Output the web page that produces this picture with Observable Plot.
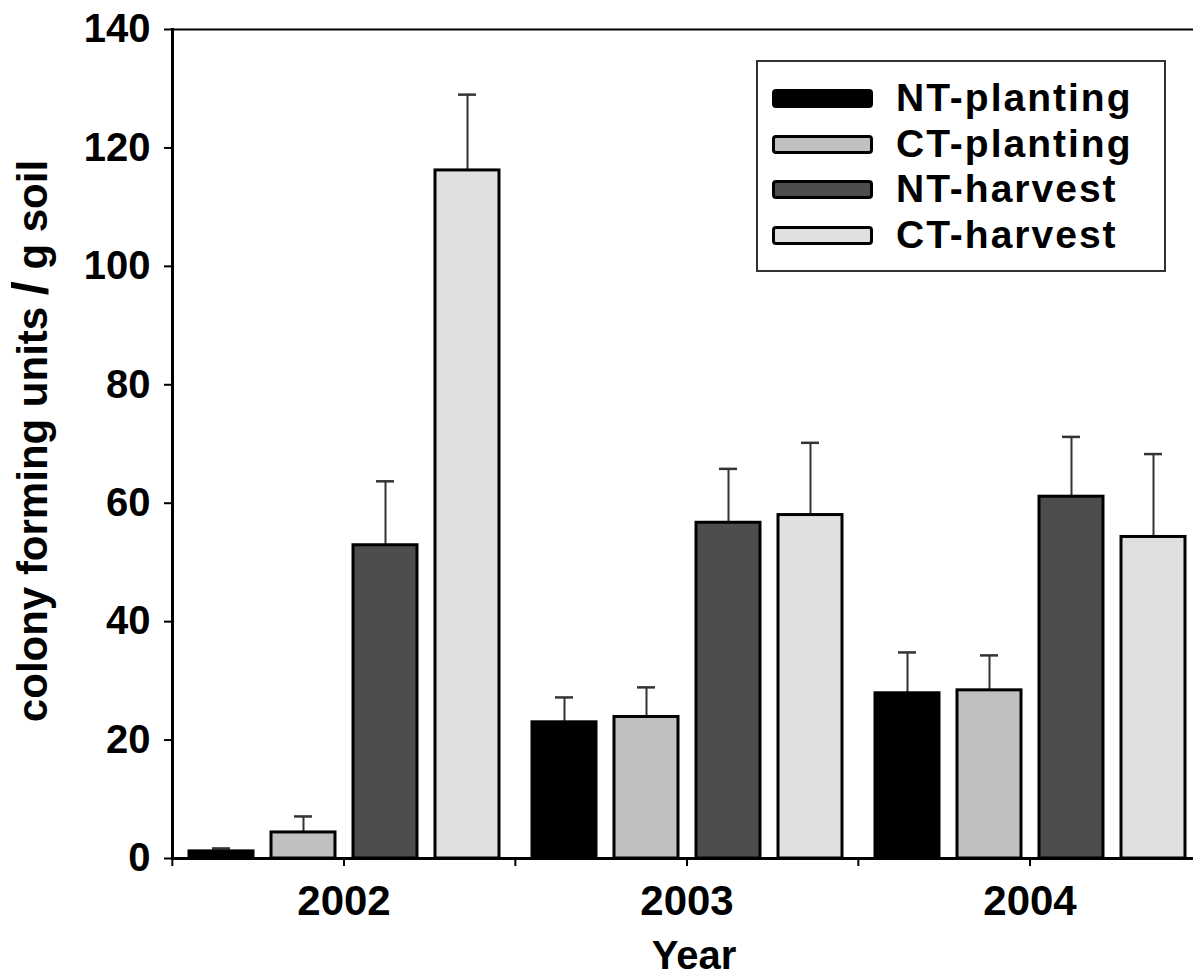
<!DOCTYPE html>
<html>
<head>
<meta charset="utf-8">
<script src="https://cdn.jsdelivr.net/npm/d3@7"></script>
<script src="https://cdn.jsdelivr.net/npm/@observablehq/plot@0.6"></script>
<style>
  html, body { margin: 0; padding: 0; background: #fff; overflow: hidden; }
  #wrap { position: relative; width: 1193px; height: 979px; overflow: hidden; font-family: 'Liberation Sans', Arial, sans-serif; font-weight: bold; color: #000; }
  #wrap svg { max-width: none !important; }
  #ylabel { position: absolute; left: 31px; top: 441px; transform: translate(-50%, -50%) rotate(-90deg); white-space: nowrap; font-size: 42px; line-height: 42px; }
  #ylabel .slash { font-size: 50px; }
  #xlabel { position: absolute; left: 694px; top: 933px; transform: translateX(-50%); font-size: 40px; line-height: 45px; white-space: nowrap; }
  #legend { position: absolute; left: 756px; top: 60px; width: 410px; height: 212px; box-sizing: border-box; border: 2px solid #333; background: #fff; }
  .row { position: absolute; left: 14px; height: 46px; display: flex; align-items: center; }
  .sw { width: 101px; height: 19px; box-sizing: border-box; border: 3px solid #000; border-radius: 4px; margin-right: 23px; }
  .lab { font-size: 39px; letter-spacing: 2px; line-height: 46px; }
</style>
</head>
<body>
<div id="wrap"></div>
<script>
// ---- data ----
const years = ["2002", "2003", "2004"];
const series = ["NT-planting", "CT-planting", "NT-harvest", "CT-harvest"];
const seriesColors = ["#000000", "#c0c0c0", "#4d4d4d", "#e0e0e0"];
// means per year (2002, 2003, 2004)
const ntPlanting = [1.2, 23.0, 27.9];
const ctPlanting = [4.4, 23.9, 28.4];
const ntHarvest = [52.9, 56.7, 61.1];
const ctHarvest = [116.2, 58.0, 54.3];
// standard errors (upper bars only)
const ntPlantingSE = [0.5, 4.2, 6.9];
const ctPlantingSE = [2.7, 5.0, 5.9];
const ntHarvestSE = [10.8, 9.1, 10.1];
const ctHarvestSE = [12.8, 12.2, 14.0];
const yTicks = [0, 20, 40, 60, 80, 100, 120, 140];

const meansBySeries = [ntPlanting, ctPlanting, ntHarvest, ctHarvest];
const seBySeries = [ntPlantingSE, ctPlantingSE, ntHarvestSE, ctHarvestSE];
const data = [];
years.forEach((yr, i) => {
  series.forEach((s, j) => {
    data.push({year: yr, series: s, value: meansBySeries[j][i], se: seBySeries[j][i]});
  });
});

const W = 1205, H = 979, ML = 171, MR = 4, MT = 29, MB = 121;
const facetW = (W - ML - MR) / years.length;

const chart = Plot.plot({
  width: W, height: H,
  marginLeft: ML, marginRight: MR, marginTop: MT, marginBottom: MB,
  style: {fontFamily: "'Liberation Sans', Arial, sans-serif", fontWeight: "bold", background: "transparent", overflow: "hidden", maxWidth: "none"},
  fx: {domain: years, padding: 0, label: null},
  x: {domain: series, paddingInner: 0.22, paddingOuter: 0.19, axis: null},
  y: {domain: [0, 140], label: null},
  color: {domain: series, range: seriesColors},
  marks: [
    Plot.ruleX(data, {fx: "year", x: "series", y1: "value", y2: d => d.value + d.se, stroke: "#333", strokeWidth: 2}),
    Plot.tickY(data, {fx: "year", x: "series", y: d => d.value + d.se, stroke: "#333", strokeWidth: 2.5, insetLeft: 23, insetRight: 23}),
    Plot.barY(data, {fx: "year", x: "series", y: "value", fill: "series", stroke: "#000", strokeWidth: 3}),
    Plot.ruleY([140], {stroke: "#000", strokeWidth: 2}),
    Plot.ruleY([0], {stroke: "#000", strokeWidth: 3}),
    Plot.frame({anchor: "left", facetAnchor: "left", stroke: "#000", strokeWidth: 3}),
    Plot.axisY({ticks: yTicks, tickSize: 8, tickPadding: 14, fontSize: 40, fontWeight: "bold", strokeWidth: 2, label: null}),
    Plot.axisFx({anchor: "bottom", tickSize: 8, tickPadding: 19, fontSize: 42, fontWeight: "bold", strokeWidth: 2, label: null}),
    Plot.axisFx({anchor: "bottom", tickSize: 8, tickFormat: () => "", dx: -facetW / 2, strokeWidth: 2, label: null})
  ]
});

const wrap = document.getElementById("wrap");
wrap.appendChild(chart);

// y label
const yl = document.createElement("div");
yl.id = "ylabel";
yl.innerHTML = 'colony forming units <span class="slash">/</span> g soil';
wrap.appendChild(yl);

// x label
const xl = document.createElement("div");
xl.id = "xlabel";
xl.textContent = "Year";
wrap.appendChild(xl);

// legend
const lg = document.createElement("div");
lg.id = "legend";
const rowTops = [13, 59, 104, 150];
series.forEach((s, i) => {
  const r = document.createElement("div");
  r.className = "row";
  r.style.top = rowTops[i] + "px";
  const sw = document.createElement("div");
  sw.className = "sw";
  sw.style.background = seriesColors[i];
  const t = document.createElement("div");
  t.className = "lab";
  t.textContent = s;
  r.appendChild(sw); r.appendChild(t);
  lg.appendChild(r);
});
wrap.appendChild(lg);
</script>
</body>
</html>
